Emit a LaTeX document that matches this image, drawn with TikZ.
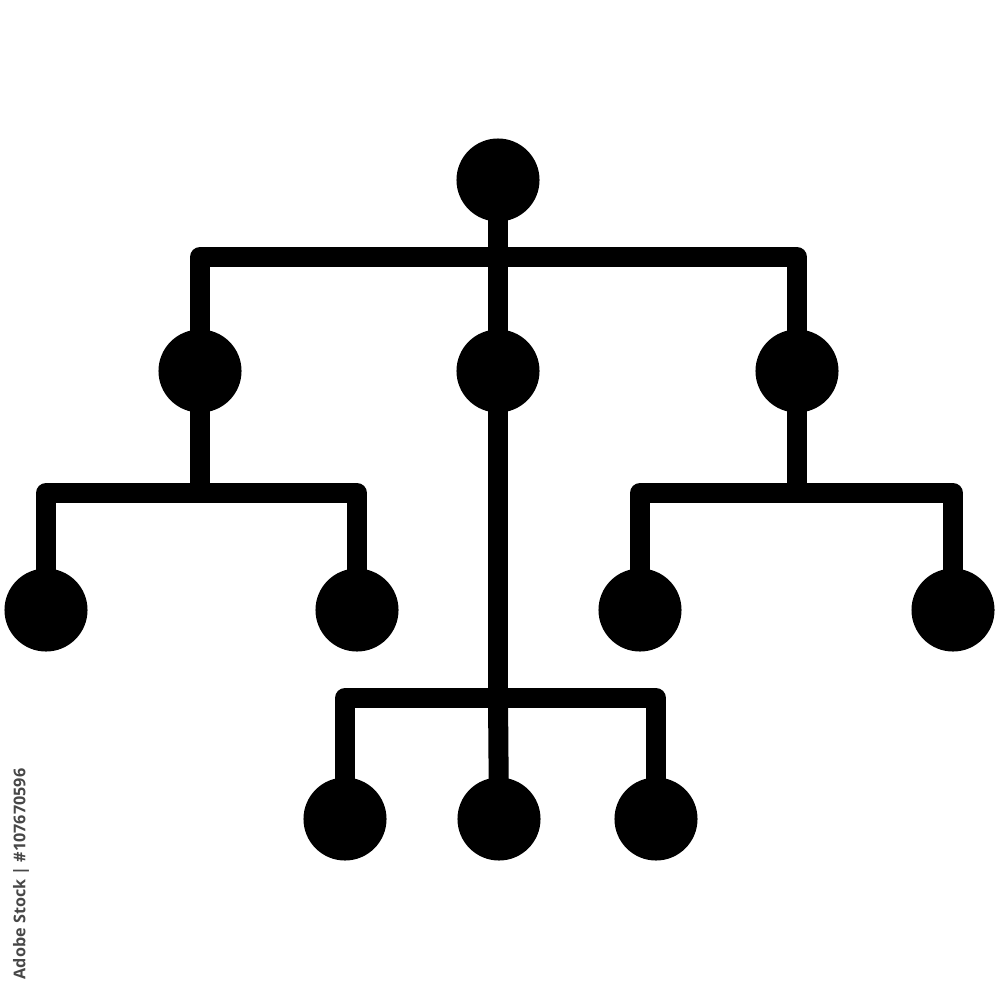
\documentclass[tikz,border=0pt]{standalone}
\usepackage{fontspec}
\newfontfamily\stockfont{Open Sans}
\begin{document}
\begin{tikzpicture}[x=0.01cm,y=-0.01cm]
        % Styles pour les noeuds et les liens
        \tikzstyle{dot} = [circle,fill=black,minimum size=0.83cm,inner sep=0pt]
        \tikzstyle{link} = [line width=0.2cm,line join=round]

        % Cadre de l'image
        \useasboundingbox (0,0) rectangle (1000,1000);

        % Racine et premier niveau
        \node[dot] (root) at (498,180) {};
        \node[dot] (left) at (200,371) {};
        \node[dot] (mid) at (498,371) {};
        \node[dot] (right) at (797,371) {};

        % Feuilles de gauche et de droite
        \node[dot] (ll) at (46,610) {};
        \node[dot] (lr) at (357,610) {};
        \node[dot] (rl) at (640,610) {};
        \node[dot] (rr) at (953,610) {};

        % Feuilles du bas
        \foreach \x/\name in {345/bl,499/bm,656/br}{
        \node[dot] (\name) at (\x,819) {};}

        % Points des barres horizontales
        \coordinate (topbar) at (498,257);
        \coordinate (leftbar) at (200,493);
        \coordinate (rightbar) at (797,493);
        \coordinate (botbar) at (498,698);

        % Dessin des liens
        \draw[link] (left.center) |- (topbar) -| (right.center);
        \draw[link] (root.center) -- (mid.center) -- (botbar);
        \draw[link] (ll.center) |- (leftbar) -| (lr.center);
        \draw[link] (left.center) -- (leftbar);
        \draw[link] (rl.center) |- (rightbar) -| (rr.center);
        \draw[link] (right.center) -- (rightbar);
        \draw[link] (bl.center) |- (botbar) -| (br.center);
        \draw[link] (botbar) -- (bm.center);

        % Mention verticale a gauche
        \node[rotate=90,text=black!72,inner sep=0pt,font=\stockfont\bfseries\fontsize{4.6}{6}\selectfont] (stock) at (21,874) {Adobe Stock | \#107670596};
    \end{tikzpicture}
\end{document}
